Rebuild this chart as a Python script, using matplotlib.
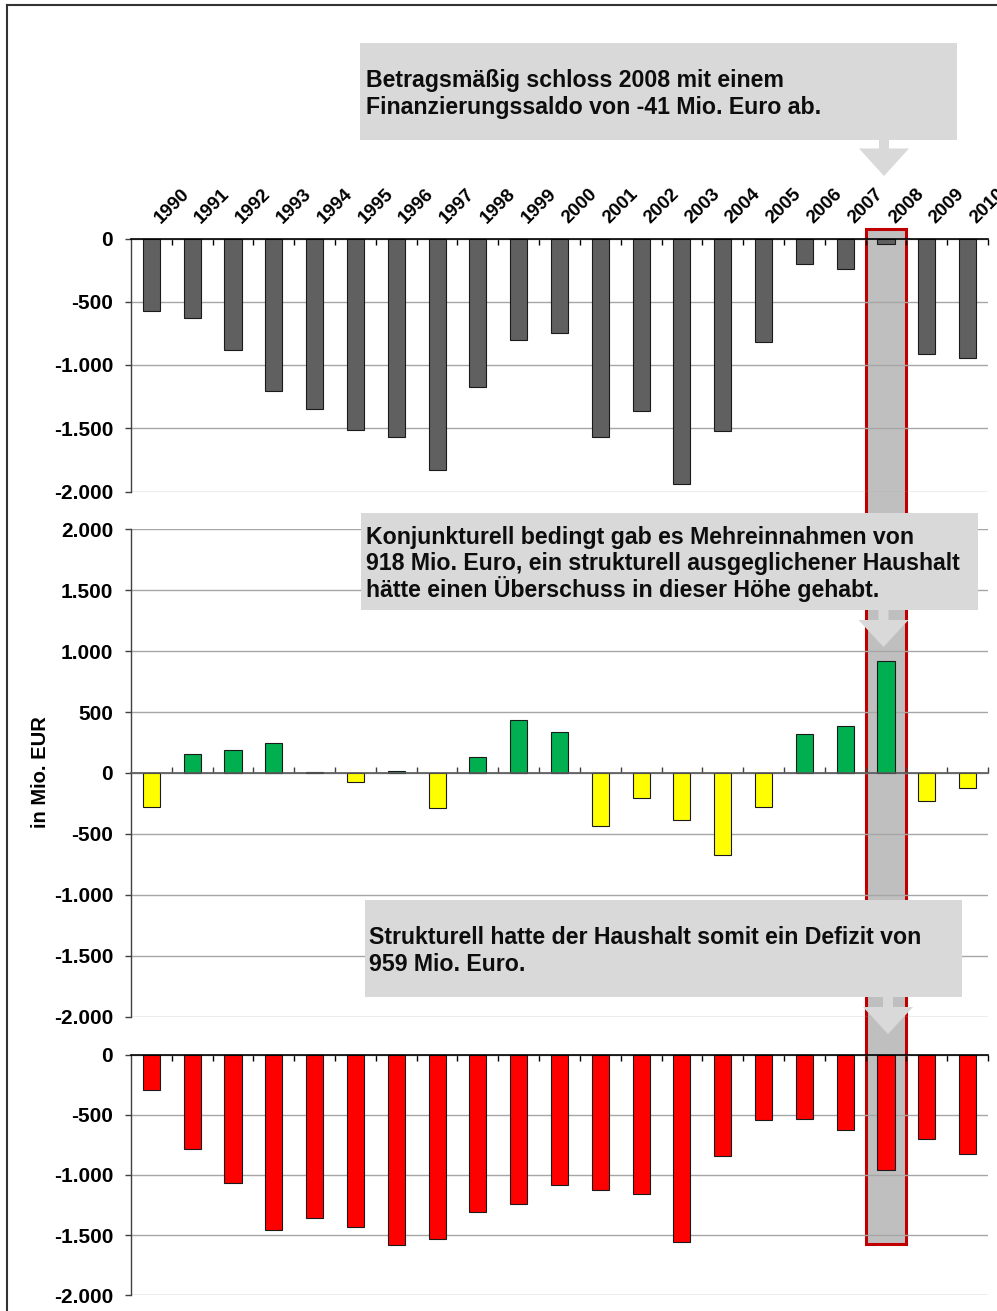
import numpy as np
import matplotlib
matplotlib.use("Agg")
import matplotlib.pyplot as plt
from matplotlib.patches import Rectangle, Polygon
from matplotlib.lines import Line2D
from matplotlib.ticker import FuncFormatter
import matplotlib.transforms as mtransforms

# ---------------- data ----------------
years = [str(y) for y in range(1990, 2011)]
saldo = [-571, -632, -882, -1203, -1350, -1513, -1566, -1832, -1176, -803,
         -745, -1571, -1366, -1942, -1521, -821, -205, -242, -41, -916, -942]
konjunktur = [-280, 158, 188, 247, 8, -73, 19, -288, 133, 435,
              337, -438, -209, -386, -670, -277, 321, 383, 918, -226, -120]
strukturell = [-291, -781, -1064, -1454, -1355, -1435, -1584, -1535, -1307, -1244,
               -1080, -1127, -1155, -1554, -845, -546, -537, -626, -959, -701, -828]
highlight_year = "2008"

yticks_top = [0, -500, -1000, -1500, -2000]
yticks_mid = [2000, 1500, 1000, 500, 0, -500, -1000, -1500, -2000]
yticks_bot = [0, -500, -1000, -1500, -2000]

ann1 = ["Betragsmäßig schloss 2008 mit einem",
        "Finanzierungssaldo von -41 Mio. Euro ab."]
ann2 = ["Konjunkturell bedingt gab es Mehreinnahmen von",
        "918 Mio. Euro, ein strukturell ausgeglichener Haushalt",
        "hätte einen Überschuss in dieser Höhe gehabt."]
ann3 = ["Strukturell hatte der Haushalt somit ein Defizit von",
        "959 Mio. Euro."]
ylabel = "in Mio. EUR"

# ---------------- layout ----------------
W, H = 997, 1311
FONT = "Liberation Sans"
plt.rcParams['font.family'] = [FONT, 'DejaVu Sans']

fig = plt.figure(figsize=(W / 100, H / 100), dpi=100)


def fx(px):
    return px / W


def fy(py):
    return 1 - py / H


def ax_rect(left, top, right, bottom):
    return [fx(left), fy(bottom), (right - left) / W, (bottom - top) / H]


ax1 = fig.add_axes(ax_rect(131, 238.5, 988, 491.5))
ax2 = fig.add_axes(ax_rect(131, 529.3, 988, 1016.7))
ax3 = fig.add_axes(ax_rect(131, 1054.7, 988, 1295.3))

x = np.arange(len(years))
bw = 0.42
fmt = FuncFormatter(lambda v, p: f"{int(round(v)):,}".replace(",", "."))
grid_col = '#A6A6A6'
tick_len = 4.3

for ax, ylim, yt in [(ax1, (-2000, 0), yticks_top),
                     (ax2, (-2000, 2000), yticks_mid),
                     (ax3, (-2000, 0), yticks_bot)]:
    ax.set_facecolor('none')
    ax.set_xlim(-0.5, len(years) - 0.5)
    ax.set_ylim(*ylim)
    ax.set_yticks(yt)
    ax.yaxis.set_major_formatter(fmt)
    ax.yaxis.grid(True, color=grid_col, linewidth=1.0)
    ax.set_axisbelow(True)
    ax.tick_params(axis='y', direction='out', length=tick_len, width=1.0,
                   color='#404040', pad=8.5, labelsize=15)
    for lab in ax.get_yticklabels():
        lab.set_fontweight('bold')
    ax.spines['right'].set_visible(False)
    ax.spines['left'].set_color('#404040')
    ax.spines['left'].set_linewidth(1.0)
    ax.set_xticks(x + 0.5, minor=True)

# top panel
ax1.bar(x, saldo, width=bw, color='#606060', edgecolor='#1a1a1a', linewidth=0.8, zorder=3)
ax1.spines['bottom'].set_visible(False)
ax1.spines['top'].set_color('black')
ax1.spines['top'].set_linewidth(1.2)
ax1.spines['top'].set_zorder(4)
ax1.xaxis.set_ticks_position('top')
ax1.set_xticks([])
ax1.tick_params(axis='x', which='minor', direction='in', length=tick_len, width=1.0, color='black')

# year labels above the top panel (rotated 45 degrees)
lab_tr = ax1.get_xaxis_transform() + mtransforms.ScaledTranslation(
    9 / 100, 14 / 100, fig.dpi_scale_trans)
for i, yr in enumerate(years):
    ax1.text(x[i], 1.0, yr, transform=lab_tr, rotation=45, rotation_mode='anchor',
             ha='left', va='baseline', fontsize=13.5, fontweight='bold', clip_on=False)

# middle panel
colors2 = ['#00B050' if v >= 0 else '#FFFF00' for v in konjunktur]
ax2.bar(x, konjunktur, width=bw, color=colors2, edgecolor='#1a1a1a', linewidth=0.8, zorder=3)
ax2.spines['top'].set_visible(False)
ax2.spines['bottom'].set_position(('data', 0))
ax2.spines['bottom'].set_color('#595959')
ax2.spines['bottom'].set_linewidth(1.2)
ax2.spines['bottom'].set_zorder(4)
ax2.set_xticks([])
ax2.tick_params(axis='x', which='minor', direction='in', length=tick_len, width=1.0, color='#404040')

# bottom panel
ax3.bar(x, strukturell, width=bw, color='#FF0000', edgecolor='#1a1a1a', linewidth=0.8, zorder=3)
ax3.spines['bottom'].set_visible(False)
ax3.spines['top'].set_color('black')
ax3.spines['top'].set_linewidth(1.2)
ax3.spines['top'].set_zorder(4)
ax3.xaxis.set_ticks_position('top')
ax3.set_xticks([])
ax3.tick_params(axis='x', which='minor', direction='in', length=tick_len, width=1.0, color='black')

# y label
fig.text(fx(40), fy(772), ylabel, rotation=90, ha='center', va='center',
         fontsize=14.5, fontweight='bold')

# highlight column for 2008 (behind all axes)
hi = years.index(highlight_year)
blend = mtransforms.blended_transform_factory(ax1.transData, fig.transFigure)
fig.add_artist(Rectangle((hi - 0.5, fy(1244)), 1.0, (1244 - 229) / H, transform=blend,
                         facecolor='#BFBFBF', edgecolor='#C00000', linewidth=2.2, zorder=-1))

# annotation boxes
box_col = '#D9D9D9'


def box(x0, y0, x1, y1):
    fig.add_artist(Rectangle((fx(x0), fy(y1)), (x1 - x0) / W, (y1 - y0) / H,
                             transform=fig.transFigure, facecolor=box_col,
                             edgecolor='none', zorder=5))


def arrow(top, base, tip_y, cx, stem_hw=5, head_hw=25):
    pts = [(cx - stem_hw, top), (cx + stem_hw, top), (cx + stem_hw, base),
           (cx + head_hw, base), (cx, tip_y), (cx - head_hw, base), (cx - stem_hw, base)]
    fig.add_artist(Polygon([(fx(a), fy(b)) for a, b in pts], closed=True,
                           transform=fig.transFigure, facecolor=box_col,
                           edgecolor='none', zorder=5))


def lines(x0, y0, texts, dy=27.2, size=16.7):
    for i, t in enumerate(texts):
        fig.text(fx(x0), fy(y0 + i * dy), t, ha='left', va='baseline',
                 fontsize=size, fontweight='bold', color='#0d0d0d', zorder=6)


box(360, 43, 957, 140)
arrow(140, 148.5, 176, 884)
lines(366, 87, ann1)

box(361, 513, 978, 610)
arrow(610, 620, 647, 883.5)
lines(366, 543.5, ann2, dy=26.6)

box(365, 900, 962, 997)
arrow(997, 1007, 1034, 888)
lines(369, 944, ann3)

# frame lines
fig.add_artist(Line2D([fx(7), fx(7)], [fy(5), 0], transform=fig.transFigure,
                      color='#333333', linewidth=1.5, zorder=7))
fig.add_artist(Line2D([fx(7), 1], [fy(5), fy(5)], transform=fig.transFigure,
                      color='#333333', linewidth=1.5, zorder=7))

fig.savefig("out.png", dpi=100)
